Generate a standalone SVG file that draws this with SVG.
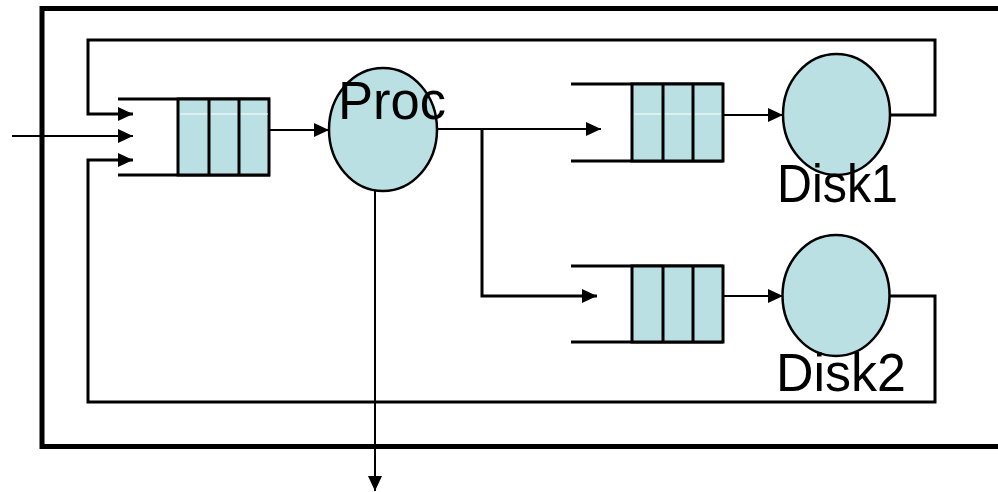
<svg xmlns="http://www.w3.org/2000/svg" width="998" height="492" viewBox="0 0 998 492">
<style>
.ln{fill:none;stroke:#000;stroke-width:3}
.th{fill:none;stroke:#000;stroke-width:2}
.box{fill:#BAE0E3;stroke:#000;stroke-width:3}
.srv{fill:#BAE0E3;stroke:#000;stroke-width:2.5}
.hl{stroke:#fff;stroke-width:1}
.lbl{font-family:"Liberation Sans",Arial,sans-serif;font-size:53px;fill:#000}
</style>
<defs>
<marker id="ah" markerUnits="userSpaceOnUse" markerWidth="16" markerHeight="14" refX="15" refY="7" orient="auto">
<path d="M0,0 L15,7 L0,14 Z" fill="#000"/>
</marker>
</defs>
<rect x="0" y="0" width="998" height="492" fill="#fff"/>
<rect id="frame" x="42" y="8.5" width="1000" height="438" fill="none" stroke="#000" stroke-width="5"/>
<g id="connectors">
<path class="ln" d="M890,115 H935 V40 H88 V114 H133" marker-end="url(#ah)"/>
<path class="ln" d="M889,296 H935 V402 H88 V160 H133" marker-end="url(#ah)"/>
<path class="th" d="M12,136 H133" marker-end="url(#ah)"/>
<path class="th" d="M270,130 H329" marker-end="url(#ah)"/>
<path class="th" d="M437,129 H482 H601" marker-end="url(#ah)"/>
<path class="ln" d="M482,129 V296 H597" marker-end="url(#ah)"/>
<path class="th" d="M723,115 H783" marker-end="url(#ah)"/>
<path class="th" d="M723,296 H783" marker-end="url(#ah)"/>
<path class="th" d="M375,191 V491" marker-end="url(#ah)"/>
</g>
<g id="queue1">
<path class="ln" d="M118,99 H270 M118,175 H270"/>
<rect class="box" x="178" y="99" width="91" height="76"/>
<line class="hl" x1="180" y1="114" x2="268" y2="114"/>
<path class="ln" d="M209,99 V175 M239,99 V175"/>
</g>
<g id="proc">
<ellipse class="srv" cx="383" cy="129.5" rx="54" ry="61.5"/>
<text class="lbl" x="338" y="119" textLength="108" lengthAdjust="spacingAndGlyphs">Proc</text>
</g>
<g id="queue2">
<path class="ln" d="M571,84 H723 M571,161 H723"/>
<rect class="box" x="632" y="84" width="91" height="77"/>
<line class="hl" x1="634" y1="114" x2="721" y2="114"/>
<path class="ln" d="M663,84 V161 M693,84 V161"/>
</g>
<g id="disk1">
<ellipse class="srv" cx="836.5" cy="114.5" rx="53.5" ry="60.5"/>
<text class="lbl" x="777" y="202" textLength="121" lengthAdjust="spacingAndGlyphs">Disk1</text>
</g>
<g id="queue3">
<path class="ln" d="M571,266 H723 M571,342 H723"/>
<rect class="box" x="632" y="266" width="91" height="76"/>
<path class="ln" d="M663,266 V342 M693,266 V342"/>
</g>
<g id="disk2">
<ellipse class="srv" cx="836" cy="295.5" rx="53.5" ry="60.5"/>
<text class="lbl" x="776" y="391" textLength="130" lengthAdjust="spacingAndGlyphs">Disk2</text>
</g>
</svg>
